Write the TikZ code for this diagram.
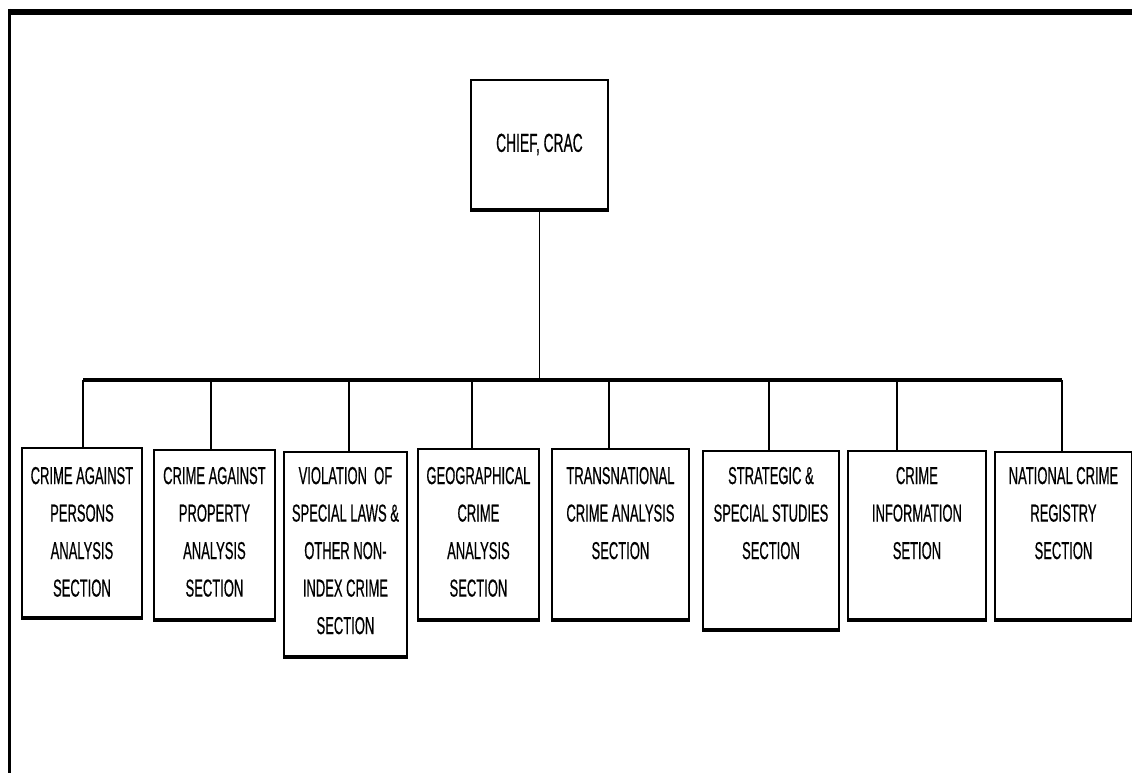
\documentclass[tikz,border=0pt]{standalone}
\usepackage{fontspec}
\setmainfont{Liberation Sans}[FakeStretch=0.53,FakeBold=0.5]
\newcommand\unitbox[6]{%
  \node[unit] (#1) at (#2,#3)
    {\parbox[c][#5pt][t]{#4pt}{\centering\fontsize{24.5}{37.5}\selectfont
      \vspace*{\dimexpr 466pt-#3pt\relax}#6}};}
\begin{document}
\begin{tikzpicture}[x=1pt,y=-1pt,
  unit/.style={draw, line width=1.9pt, inner sep=0pt, anchor=north west},
  link/.style={line width=1.5pt},
  bus/.style={line width=3.2pt},
  frame/.style={line width=#1}]
\useasboundingbox (0,0) rectangle (1132,773);
% page frame (top and left edges)
\draw[frame=6pt] (8,12) -- (1132,12);
\draw[frame=3pt] (9.5,9) -- (9.5,773);

% chief
\node[unit, minimum width=137pt, minimum height=129pt,
      font=\fontsize{26}{30}\selectfont] (chief) at (470,79) {CHIEF, CRAC};

% sections
\unitbox{b1}{21}{447}{120}{169}{CRIME AGAINST\\PERSONS\\ANALYSIS\\SECTION}
\unitbox{b2}{153}{449}{121}{169}{CRIME AGAINST\\PROPERTY\\ANALYSIS\\SECTION}
\unitbox{b3}{283}{451}{123}{204}{VIOLATION\ \ OF\\SPECIAL LAWS \&\\OTHER NON-\\INDEX CRIME\\SECTION}
\unitbox{b4}{417}{448}{121}{170}{GEOGRAPHICAL\\CRIME\\ANALYSIS\\SECTION}
\unitbox{b5}{551}{448}{137}{170}{TRANSNATIONAL\\CRIME ANALYSIS\\SECTION}
\unitbox{b6}{702}{450}{136}{178}{STRATEGIC \&\\SPECIAL STUDIES\\SECTION}
\unitbox{b7}{847}{450}{138}{168}{CRIME\\INFORMATION\\SETION}
\unitbox{b8}{994}{451}{137}{167}{NATIONAL CRIME\\REGISTRY\\SECTION}

% thicker bottom edges
\foreach \n in {chief,b1,b2,b3,b4,b5,b6,b7,b8}
  \draw[line width=2.6pt] ([yshift=-0.9pt]\n.south west) -- ([yshift=-0.9pt]\n.south east);

% bus
\coordinate (busL) at (83,380);
\coordinate (busR) at (1062,380);
\draw[bus] (busL) -- (busR);
\draw[link] (chief.south) -- (chief.south |- busL);

\coordinate (d1) at (83,380);
\coordinate (d2) at (211,380);
\coordinate (d3) at (349,380);
\coordinate (d4) at (472,380);
\coordinate (d5) at (609,380);
\coordinate (d6) at (769,380);
\coordinate (d7) at (897,380);
\coordinate (d8) at (1062,380);
\foreach \i in {1,...,8}
  \draw[link] (d\i) -- (d\i |- b\i.north);
\end{tikzpicture}
\end{document}
